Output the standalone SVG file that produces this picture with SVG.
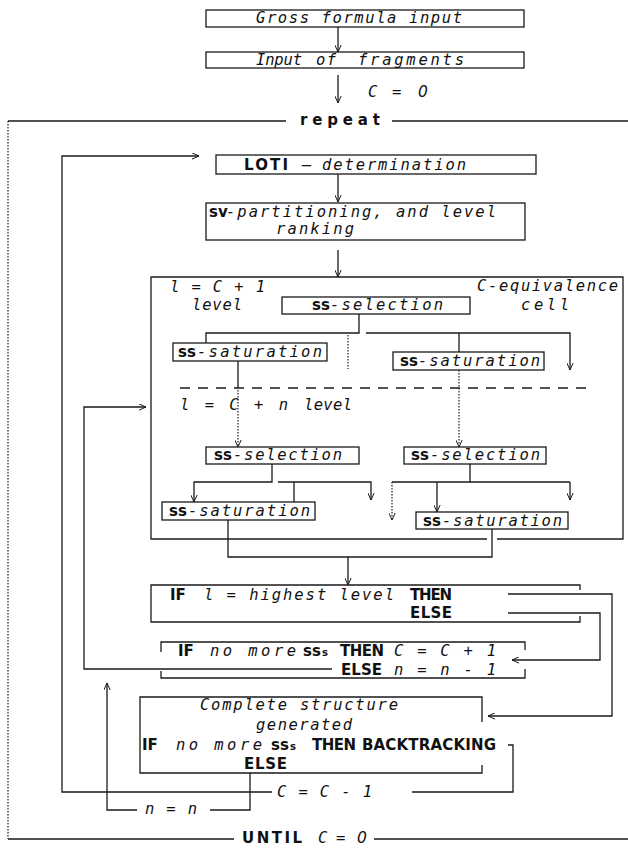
<svg xmlns="http://www.w3.org/2000/svg" width="628" height="848" viewBox="0 0 628 848">
<style>
.bx{fill:none;stroke:#1a1a1a;stroke-width:1.3}
.ln{fill:none;stroke:#1a1a1a;stroke-width:1.3}
.dot{fill:none;stroke:#1a1a1a;stroke-width:1.2;stroke-dasharray:1.5 1.5}
.dash{fill:none;stroke:#1a1a1a;stroke-width:1.3;stroke-dasharray:10 8}
text{font-family:"DejaVu Sans","Liberation Sans",Arial,sans-serif;font-size:15px;fill:#111}
.i{font-family:"DejaVu Sans Mono","Liberation Mono",monospace;font-style:italic;font-weight:normal;font-size:15.5px}
.z{font-family:"DejaVu Sans","Liberation Sans",Arial,sans-serif;font-style:italic;font-weight:normal;font-size:15.5px}
.b{font-family:"DejaVu Sans","Liberation Sans",Arial,sans-serif;font-weight:bold;font-style:normal;font-size:15px}
.sub{font-weight:bold;font-size:10px;font-style:normal}
</style>
<defs>
<marker id="arr" viewBox="0 0 10 10" refX="10" refY="5" markerWidth="7" markerHeight="7" markerUnits="userSpaceOnUse" orient="auto">
<path d="M0,0.5 L10,5 L0,9.5" fill="none" stroke="#1a1a1a" stroke-width="1.4"/>
</marker>
</defs>
<rect width="628" height="848" fill="#fff"/>

<g id="connectors">
<path class="ln" d="M338,27 V52" marker-end="url(#arr)"/>
<path class="ln" d="M338,75 V103" marker-end="url(#arr)"/>
<path class="ln" d="M8,121 H286 M392,121 H628"/>
<path class="dot" d="M8,121 V839"/>
<path class="ln" d="M8,839 H234 M374,839 H628"/>
<path class="ln" d="M272,792 H62 V156 H199" marker-end="url(#arr)"/>
<path class="ln" d="M338,174 V202" marker-end="url(#arr)"/>
<path class="ln" d="M338,250 V277" marker-end="url(#arr)"/>
<path class="ln" d="M359,314 V333 H206 V343"/>
<path class="ln" d="M366,333 H570 V370" marker-end="url(#arr)"/>
<path class="ln" d="M459,333 V352"/>
<path class="dot" d="M348,335 V369"/>
<path class="ln" d="M238,361 V388"/>
<path class="dot" d="M238,390 V447" marker-end="url(#arr)"/>
<path class="dot" d="M459,370 V447" marker-end="url(#arr)"/>
<path class="dash" d="M180,388 H586"/>
<path class="ln" d="M332,669 H84 V407 H146" marker-end="url(#arr)"/>
<path class="ln" d="M272,464 V482 H194 V502" marker-end="url(#arr)"/>
<path class="ln" d="M278,482 H371 V500" marker-end="url(#arr)"/>
<path class="ln" d="M294,482 V502"/>
<path class="ln" d="M470,464 V482 M392,482 H570"/>
<path class="dot" d="M392,482 V520" marker-end="url(#arr)"/>
<path class="ln" d="M437,482 V512" marker-end="url(#arr)"/>
<path class="ln" d="M570,482 V500" marker-end="url(#arr)"/>
<path class="ln" d="M228,520 V557 H492 V529"/>
<path class="ln" d="M348,557 V585" marker-end="url(#arr)"/>
<path class="ln" d="M508,594 H612 V716 H488" marker-end="url(#arr)"/>
<path class="ln" d="M508,613 H600 V660 H512" marker-end="url(#arr)"/>
<path class="ln" d="M508,745 H513 V792 H412"/>
<path class="ln" d="M250,773 V810 H210"/>
<path class="ln" d="M137,810 H107 V683" marker-end="url(#arr)"/>
</g>

<g id="gross">
<rect class="bx" x="206" y="10" width="318" height="17"/>
<text class="i" x="256" y="23" textLength="206">Gross formula input</text>
</g>
<g id="input">
<rect class="bx" x="206" y="52" width="318" height="16"/>
<text class="i" y="65"><tspan x="256" textLength="46">Input</tspan><tspan x="316" textLength="20">of</tspan><tspan x="358" textLength="106">fragments</tspan></text>
</g>
<g id="c0-label"><text class="i" y="97"><tspan x="368">C</tspan><tspan x="392">=</tspan><tspan class="z" x="418">0</tspan></text></g>
<g id="repeat"><text class="b" x="300" y="125" textLength="80">repeat</text></g>

<g id="loti">
<rect class="bx" x="216" y="155" width="320" height="19"/>
<text y="170"><tspan class="b" x="244" textLength="44">LOTI</tspan><tspan class="i" x="302">–</tspan><tspan class="i" x="322" textLength="144">determination</tspan></text>
</g>
<g id="sv">
<rect class="bx" x="206" y="203" width="319" height="37"/>
<text y="217"><tspan class="b" x="209">sv</tspan><tspan class="i" x="226" textLength="270">-partitioning, and level</tspan></text>
<text class="i" x="276" y="234" textLength="78">ranking</text>
</g>

<g id="cell">
<path class="bx" d="M487,539 H151 V277 H623 V539 H497"/>
<text class="i" x="170" y="292" textLength="95">l = C + 1</text>
<text class="i" x="192" y="310" textLength="50">level</text>
<text class="i" x="477" y="291" textLength="141">C-equivalence</text>
<text class="i" x="521" y="310" textLength="48">cell</text>
<text class="i" y="410"><tspan x="180" textLength="108">l = C + n</tspan><tspan x="304" textLength="48">level</tspan></text>
</g>
<g id="sel1">
<rect class="bx" x="282" y="297" width="188" height="17"/>
<text y="310"><tspan class="b" x="312">ss</tspan><tspan class="i" x="330" textLength="113">-selection</tspan></text>
</g>
<g id="sat1a">
<rect class="bx" x="173" y="343" width="154" height="18"/>
<text y="357"><tspan class="b" x="178">ss</tspan><tspan class="i" x="197" textLength="125">-saturation</tspan></text>
</g>
<g id="sat1b">
<rect class="bx" x="393" y="352" width="151" height="18"/>
<text y="366"><tspan class="b" x="400">ss</tspan><tspan class="i" x="418" textLength="122">-saturation</tspan></text>
</g>
<g id="sel2a">
<rect class="bx" x="206" y="447" width="153" height="17"/>
<text y="460"><tspan class="b" x="214">ss</tspan><tspan class="i" x="233" textLength="109">-selection</tspan></text>
</g>
<g id="sel2b">
<rect class="bx" x="404" y="447" width="142" height="17"/>
<text y="460"><tspan class="b" x="411">ss</tspan><tspan class="i" x="430" textLength="110">-selection</tspan></text>
</g>
<g id="sat2a">
<rect class="bx" x="162" y="502" width="153" height="18"/>
<text y="516"><tspan class="b" x="169">ss</tspan><tspan class="i" x="188" textLength="122">-saturation</tspan></text>
</g>
<g id="sat2b">
<rect class="bx" x="416" y="512" width="152" height="17"/>
<text y="526"><tspan class="b" x="423">ss</tspan><tspan class="i" x="442" textLength="120">-saturation</tspan></text>
</g>

<g id="if-level">
<path class="bx" d="M580,590 V585 H151 V622 H580 V616"/>
<text y="600"><tspan class="b" x="170">IF</tspan><tspan class="i" x="204" textLength="190">l = highest level</tspan><tspan class="b" x="410" textLength="42">THEN</tspan></text>
<text class="b" x="410" y="618" textLength="42">ELSE</text>
</g>
<g id="if-nomore">
<path class="bx" d="M161,652 V642 H525 V650 M161,671 V678 H525 V669"/>
<text y="656"><tspan class="b" x="178">IF</tspan><tspan class="i" x="210" textLength="86">no more</tspan><tspan class="b" x="303">ss</tspan><tspan class="sub" x="322">s</tspan><tspan class="b" x="340" textLength="44">THEN</tspan><tspan class="i" x="394" textLength="102">C = C + 1</tspan></text>
<text y="675"><tspan class="b" x="341" textLength="41">ELSE</tspan><tspan class="i" x="394" textLength="102">n = n - 1</tspan></text>
</g>
<g id="complete">
<path class="bx" d="M482,722 V697 H140 V773 H482 V765"/>
<text class="i" x="200" y="710" textLength="198">Complete structure</text>
<text class="i" x="256" y="730" textLength="96">generated</text>
<text y="750"><tspan class="b" x="142">IF</tspan><tspan class="i" x="176" textLength="86">no more</tspan><tspan class="b" x="271">ss</tspan><tspan class="sub" x="290">s</tspan><tspan class="b" x="312" textLength="44">THEN</tspan><tspan class="b" x="362" textLength="134">BACKTRACKING</tspan></text>
<text class="b" x="244" y="769" textLength="43">ELSE</text>
</g>
<g id="loop-labels">
<text class="i" x="277" y="797" textLength="95">C = C - 1</text>
<text class="i" x="145" y="814" textLength="52">n = n</text>
</g>
<g id="until">
<text y="843"><tspan class="b" x="242" textLength="60">UNTIL</tspan><tspan class="i" x="318">C</tspan><tspan class="i" x="336">=</tspan><tspan class="z" x="357">0</tspan></text>
</g>
</svg>
